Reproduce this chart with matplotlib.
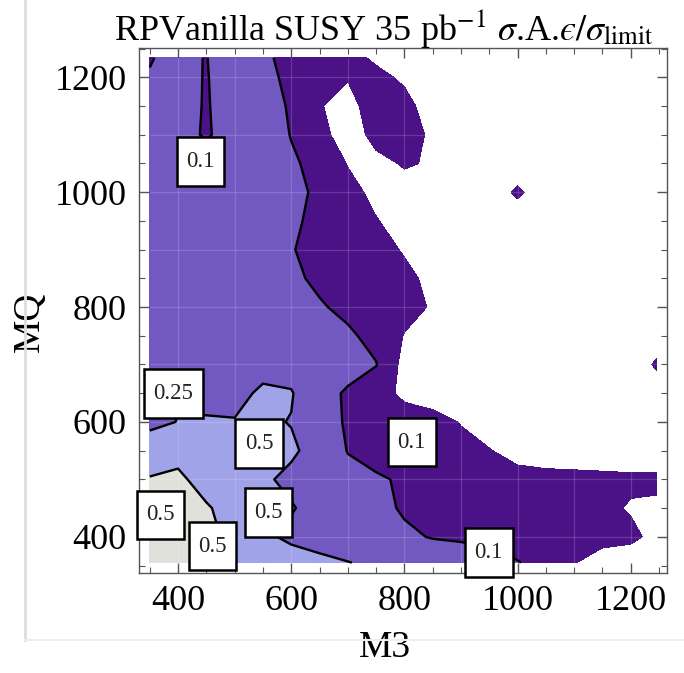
import matplotlib
matplotlib.use("Agg")
import numpy as np
import matplotlib.pyplot as plt
from matplotlib.lines import Line2D
from matplotlib.ticker import MultipleLocator

plt.rcParams["font.family"] = ["Liberation Serif", "DejaVu Serif"]
plt.rcParams["mathtext.fontset"] = "stix"

# Sample grid: gluino-like mass M3 (columns) and squark mass MQ (rows)
m3 = [350, 400, 450, 500, 550, 600, 650, 700, 750, 800, 850, 900, 950,
      1000, 1050, 1100, 1150, 1200, 1246]
mq = [355, 400, 450, 500, 550, 600, 650, 700, 750, 800, 850, 900, 950,
      1000, 1050, 1100, 1150, 1200, 1234]

# sigma.A.eps / sigma_limit, one row per MQ value
r_355 = [0.70, 0.66, 0.60, 0.43, 0.36, 0.32, 0.29, 0.255, 0.22, 0.19, 0.16, 0.14, 0.12, 0.102, 0.085, 0.052, 0.03, 0.03, 0.03]
r_400 = [0.65, 0.64, 0.58, 0.42, 0.28, 0.22, 0.18, 0.15, 0.13, 0.115, 0.095, 0.09, 0.085, 0.08, 0.075, 0.07, 0.065, 0.058, 0.04]
r_450 = [0.60, 0.62, 0.53, 0.38, 0.33, 0.26, 0.20, 0.16, 0.125, 0.09, 0.085, 0.08, 0.075, 0.07, 0.066, 0.062, 0.058, 0.047, 0.045]
r_500 = [0.52, 0.56, 0.38, 0.35, 0.27, 0.22, 0.17, 0.14, 0.105, 0.095, 0.09, 0.085, 0.08, 0.065, 0.062, 0.06, 0.058, 0.056, 0.056]
r_550 = [0.32, 0.40, 0.32, 0.30, 0.30, 0.27, 0.20, 0.095, 0.085, 0.078, 0.07, 0.062, 0.052, 0.035, 0.03, 0.03, 0.03, 0.03, 0.03]
r_600 = [0.22, 0.253, 0.253, 0.256, 0.27, 0.245, 0.14, 0.09, 0.08, 0.072, 0.065, 0.048, 0.03, 0.03, 0.03, 0.03, 0.03, 0.03, 0.03]
r_650 = [0.235, 0.24, 0.24, 0.215, 0.27, 0.26, 0.13, 0.09, 0.07, 0.04, 0.03, 0.03, 0.03, 0.03, 0.03, 0.03, 0.03, 0.03, 0.03]
r_700 = [0.24, 0.235, 0.23, 0.225, 0.21, 0.19, 0.16, 0.13, 0.102, 0.035, 0.03, 0.03, 0.03, 0.03, 0.03, 0.03, 0.03, 0.03, 0.055]
r_750 = [0.235, 0.23, 0.22, 0.21, 0.19, 0.16, 0.13, 0.108, 0.085, 0.048, 0.03, 0.03, 0.03, 0.03, 0.03, 0.03, 0.03, 0.03, 0.03]
r_800 = [0.23, 0.22, 0.21, 0.20, 0.17, 0.135, 0.105, 0.088, 0.075, 0.065, 0.046, 0.03, 0.03, 0.03, 0.03, 0.03, 0.03, 0.03, 0.03]
r_850 = [0.22, 0.21, 0.20, 0.19, 0.15, 0.11, 0.09, 0.078, 0.068, 0.058, 0.042, 0.03, 0.03, 0.03, 0.03, 0.03, 0.03, 0.03, 0.03]
r_900 = [0.21, 0.20, 0.19, 0.18, 0.14, 0.102, 0.088, 0.075, 0.063, 0.047, 0.03, 0.03, 0.03, 0.03, 0.03, 0.03, 0.03, 0.03, 0.03]
r_950 = [0.20, 0.19, 0.18, 0.17, 0.15, 0.11, 0.085, 0.068, 0.052, 0.035, 0.03, 0.03, 0.03, 0.03, 0.03, 0.03, 0.03, 0.03, 0.03]
r_1000 = [0.19, 0.18, 0.17, 0.16, 0.14, 0.115, 0.09, 0.063, 0.04, 0.03, 0.03, 0.03, 0.03, 0.056, 0.03, 0.03, 0.03, 0.03, 0.03]
r_1050 = [0.18, 0.16, 0.16, 0.15, 0.135, 0.107, 0.085, 0.048, 0.035, 0.055, 0.045, 0.03, 0.03, 0.03, 0.03, 0.03, 0.03, 0.03, 0.03]
r_1100 = [0.16, 0.14, 0.088, 0.15, 0.13, 0.098, 0.07, 0.02, 0.068, 0.075, 0.04, 0.03, 0.03, 0.03, 0.03, 0.03, 0.03, 0.03, 0.03]
r_1150 = [0.15, 0.14, 0.092, 0.15, 0.12, 0.095, 0.055, 0.02, 0.095, 0.06, 0.035, 0.03, 0.03, 0.03, 0.03, 0.03, 0.03, 0.03, 0.03]
r_1200 = [0.104, 0.13, 0.095, 0.15, 0.11, 0.092, 0.07, 0.055, 0.058, 0.045, 0.03, 0.03, 0.03, 0.03, 0.03, 0.03, 0.03, 0.03, 0.03]
r_1234 = [0.096, 0.12, 0.097, 0.16, 0.106, 0.09, 0.075, 0.06, 0.045, 0.03, 0.03, 0.03, 0.03, 0.03, 0.03, 0.03, 0.03, 0.03, 0.03]

ratio = np.array([r_355, r_400, r_450, r_500, r_550, r_600, r_650, r_700, r_750,
                  r_800, r_850, r_900, r_950, r_1000, r_1050, r_1100, r_1150,
                  r_1200, r_1234])

fill_levels = [0.05, 0.1, 0.25, 0.5, 5.0]
fill_colors = ["#4b1287", "#7259c1", "#a1a3e8", "#e1e1dc"]
line_levels = [0.1, 0.25, 0.5]

# contour label annotations: level, M3, MQ
label_levels = [0.1, 0.25, 0.5, 0.5, 0.5, 0.5, 0.1, 0.1]
label_m3 = [440, 392, 543, 560, 369, 461, 813, 949]
label_mq = [1054, 649, 563, 443, 438, 384, 565, 372]

fig = plt.figure(figsize=(6.84, 6.73), dpi=100)
ax = fig.add_axes([139 / 684, 100 / 673, 528 / 684, 525 / 673])

ax.contourf(m3, mq, ratio, levels=fill_levels, colors=fill_colors, zorder=1)

# faint mesh through every other sample row/column
ax.vlines(m3[1:-1:2], mq[0], mq[-1], colors="white", alpha=0.16, lw=0.9, zorder=2)
ax.hlines(mq[1:-1:2], m3[0], m3[-1], colors="white", alpha=0.16, lw=0.9, zorder=2)

ax.contour(m3, mq, ratio, levels=line_levels, colors="black",
           linewidths=1.7, zorder=3)

for lvl, x, y in zip(label_levels, label_m3, label_mq):
    ax.text(x, y, f"{lvl:g}", ha="center", va="center", fontsize=16.5,
            color="#222222", zorder=5,
            bbox=dict(boxstyle="square,pad=0.42", fc="white", ec="black",
                      lw=1.8, mutation_aspect=1.45))

ax.set_xlim(331, 1264)
ax.set_ylim(337, 1251)

ax.xaxis.set_major_locator(MultipleLocator(200))
ax.xaxis.set_minor_locator(MultipleLocator(50))
ax.yaxis.set_major_locator(MultipleLocator(200))
ax.yaxis.set_minor_locator(MultipleLocator(50))
ax.tick_params(which="both", direction="in", top=True, right=True,
               color="#555555", labelsize=26)
ax.tick_params(which="major", length=7, width=1.0, pad=9)
ax.tick_params(which="minor", length=4, width=0.8)
for s in ax.spines.values():
    s.set_color("#555555")
    s.set_linewidth(1.0)

ax.set_xlabel("M3", fontsize=27)
ax.set_ylabel("MQ", fontsize=27)
ax.xaxis.set_label_coords((385 - 139) / 528, (573 - 648) / 525)
ax.yaxis.set_label_coords((30 - 139) / 528, (573 - 322) / 525)
ax.xaxis.label.set_va("center")
ax.yaxis.label.set_va("center")

fig.text(384 / 684, 1 - 40 / 673,
         "RPVanilla SUSY 35 pb$^{-1}$ $\\sigma$.A.$\u03f5/\\sigma_{\\rm limit}$",
         ha="center", va="baseline", fontsize=26)

# light panel border on the left and bottom
fig.add_artist(Line2D([25 / 684, 25 / 684], [1.0, 1 - 640 / 673],
                      transform=fig.transFigure, color="#dddddd", lw=2))
fig.add_artist(Line2D([25 / 684, 1.0], [1 - 640 / 673, 1 - 640 / 673],
                      transform=fig.transFigure, color="#eeeeee", lw=1.5))

fig.savefig("out.png", dpi=100)
